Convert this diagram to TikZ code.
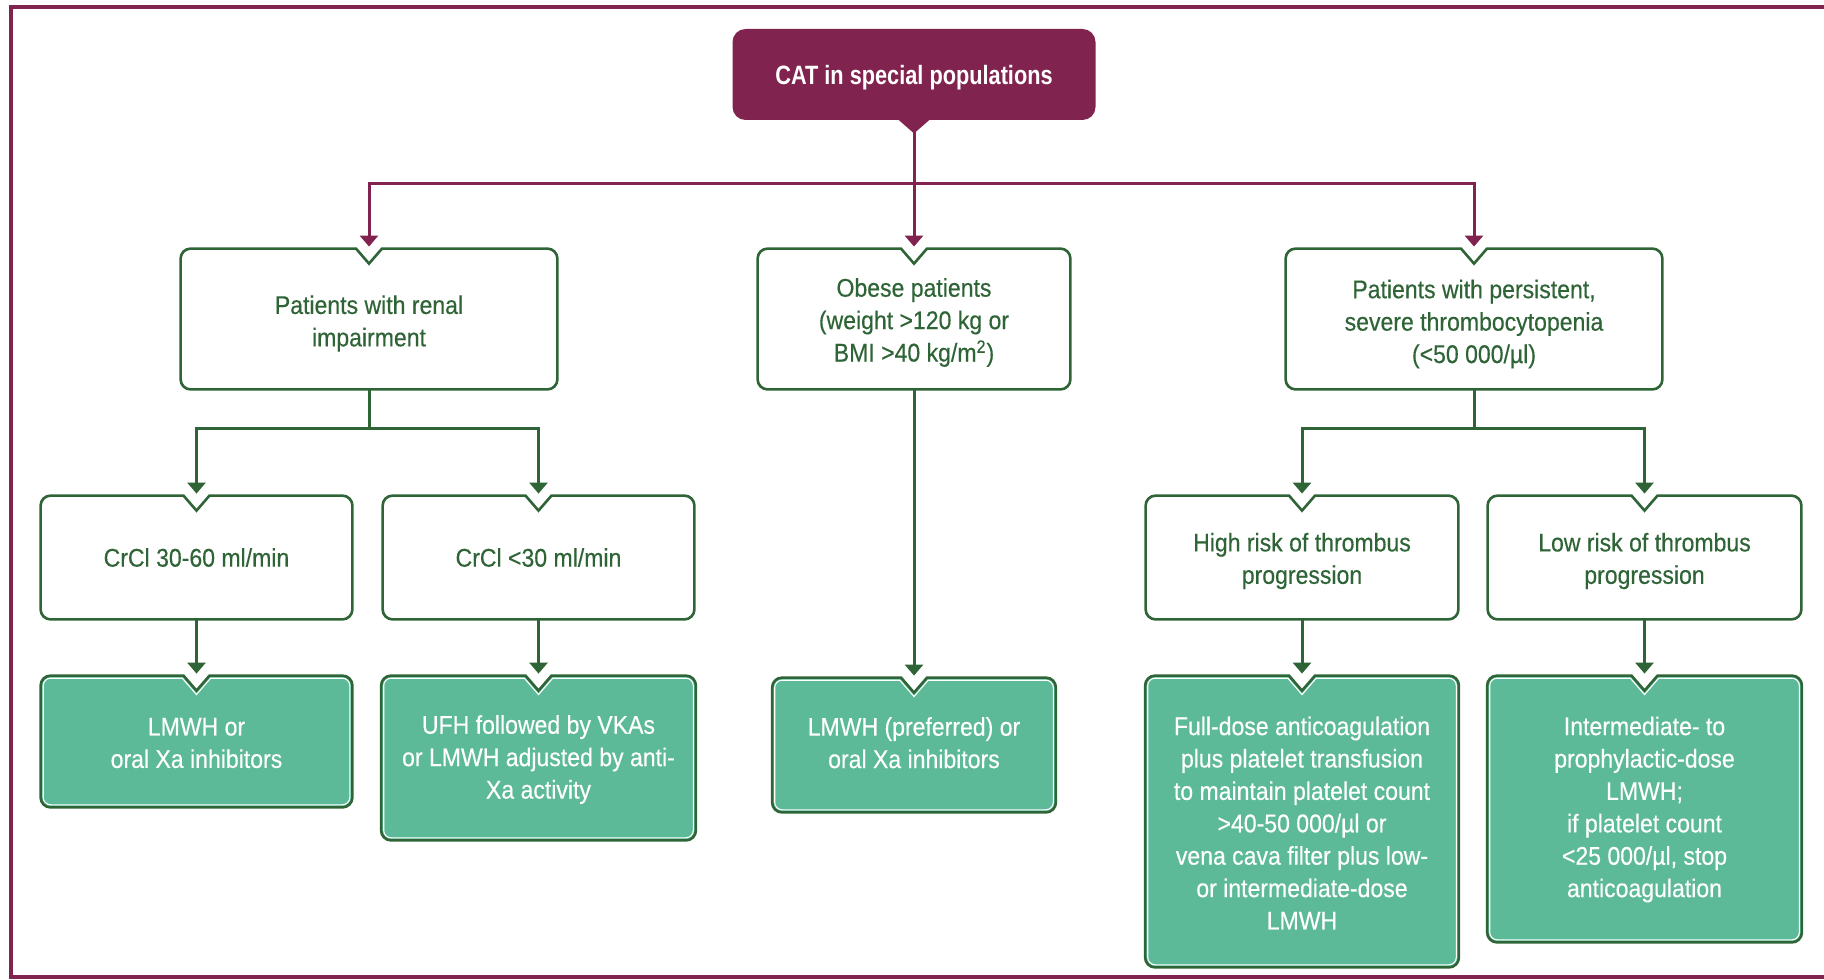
\documentclass[tikz,border=0pt]{standalone}
\usepackage{fontspec}
\setmainfont{Liberation Sans}[FakeStretch=0.9, FakeBold=0.35]
\newfontfamily\headfont{Liberation Sans}[FakeStretch=0.82]
\usetikzlibrary{arrows.meta,calc}
\definecolor{plum}{HTML}{80234E}
\definecolor{leaf}{HTML}{2F6437}
\definecolor{mint}{HTML}{5CBA98}

% Rounded box with a V notch in the middle of its top edge,
% drawn around node #2, inset by #3 pt, with path style #1.
\newcommand\boxshape[3]{%
 \def\bxinset{#3}%
 \path[#1] let \p1=(#2.north west), \p2=(#2.south east), \p3=(#2.north) in
  ({\x3-6.5pt-0.457*\bxinset pt},{\y1-\bxinset pt})
  -- ({\x1+5pt},{\y1-\bxinset pt})
  .. controls ({\x1+\bxinset pt+0.448*(5-\bxinset)*1pt},{\y1-\bxinset pt}) and ({\x1+\bxinset pt},{\y1-\bxinset pt-0.448*(5-\bxinset)*1pt}) .. ({\x1+\bxinset pt},{\y1-5pt})
  -- ({\x1+\bxinset pt},{\y2+5pt})
  .. controls ({\x1+\bxinset pt},{\y2+\bxinset pt+0.448*(5-\bxinset)*1pt}) and ({\x1+\bxinset pt+0.448*(5-\bxinset)*1pt},{\y2+\bxinset pt}) .. ({\x1+5pt},{\y2+\bxinset pt})
  -- ({\x2-5pt},{\y2+\bxinset pt})
  .. controls ({\x2-\bxinset pt-0.448*(5-\bxinset)*1pt},{\y2+\bxinset pt}) and ({\x2-\bxinset pt},{\y2+\bxinset pt+0.448*(5-\bxinset)*1pt}) .. ({\x2-\bxinset pt},{\y2+5pt})
  -- ({\x2-\bxinset pt},{\y1-5pt})
  .. controls ({\x2-\bxinset pt},{\y1-\bxinset pt-0.448*(5-\bxinset)*1pt}) and ({\x2-\bxinset pt-0.448*(5-\bxinset)*1pt},{\y1-\bxinset pt}) .. ({\x2-5pt},{\y1-\bxinset pt})
  -- ({\x3+6.5pt+0.457*\bxinset pt},{\y1-\bxinset pt})
  -- ({\x3},{\y1-7.5pt-1.527*\bxinset pt})
  -- cycle;}

\tikzset{
 frame/.style={inner sep=0pt},
 txt/.style={align=center, inner sep=0pt, font=\fontsize{12.8pt}{16.2pt}\selectfont},
 wtxt/.style={txt, text=leaf},
 gtxt/.style={txt, text=white},
 titlebox/.style={fill=plum, rounded corners=6.5pt, inner sep=0pt},
 titletxt/.style={text=white, inner sep=0pt,
   font=\headfont\bfseries\fontsize{13.25pt}{16pt}\selectfont},
 wshape/.style={fill=white, draw=leaf, line width=1.3pt},
 gshape/.style={fill=mint, draw=leaf, line width=1.3pt},
 ginner/.style={draw=white, line width=0.55pt},
 pline/.style={draw=plum, line width=1.5pt},
 gline/.style={draw=leaf, line width=1.5pt},
 parrow/.style={pline, -{Triangle[width=9pt,length=5.5pt]}, shorten >=1pt},
 garrow/.style={gline, -{Triangle[width=9pt,length=5.5pt]}, shorten >=1pt},
}

\begin{document}
\begin{tikzpicture}[x=0.5pt,y=-0.5pt]
\useasboundingbox (0,0) rectangle (1824,979);

% outer frame
\draw[plum, line width=1.75pt] (1824,7) -- (11,7) -- (11,977) -- (1824,977);

% title
\node[titlebox, minimum width=181.5pt, minimum height=45.5pt] (title) at (914,74.5) {};
\fill[plum] ($(title.south)+(-8pt,0.5pt)$) -- ($(title.south)+(8pt,0.5pt)$) -- ($(title.south)+(0,-6.5pt)$) -- cycle;
\node[titletxt] (title-t) at ($(title)+(0,3.5)$) {CAT in special populations};

% box frames (sizes in px of the drawing)
\node[frame, minimum width=188pt, minimum height=70pt] (renal) at (369,319) {};
\node[frame, minimum width=156pt, minimum height=70pt] (obese) at (914,319) {};
\node[frame, minimum width=188pt, minimum height=70pt] (thrombo) at (1474,319) {};
\node[frame, minimum width=155.5pt, minimum height=61.5pt] (c1) at (196.5,557.5) {};
\node[frame, minimum width=155.5pt, minimum height=61.5pt] (c2) at (538.5,557.5) {};
\node[frame, minimum width=156pt, minimum height=61.5pt] (h1) at (1302,557.5) {};
\node[frame, minimum width=156.5pt, minimum height=61.5pt] (h2) at (1644.5,557.5) {};
\node[frame, minimum width=155.5pt, minimum height=65.5pt] (g1) at (196.5,741.5) {};
\node[frame, minimum width=157pt, minimum height=82pt] (g2) at (538.5,758) {};
\node[frame, minimum width=141.5pt, minimum height=67pt] (g3) at (914,745) {};
\node[frame, minimum width=156.5pt, minimum height=145.5pt] (g4) at (1302,821.5) {};
\node[frame, minimum width=157pt, minimum height=133pt] (g5) at (1644.5,809) {};

% box outlines
\foreach \bx in {renal,obese,thrombo,c1,c2,h1,h2}{\boxshape{wshape}{\bx}{0}}
\foreach \bx in {g1,g2,g3,g4,g5}{\boxshape{gshape}{\bx}{0}\boxshape{ginner}{\bx}{1.3}}

% texts
\node[wtxt] (renal-t) at ($(renal)+(0,4.5)$) {Patients with renal\\impairment};
\node[wtxt] (obese-t) at ($(obese)+(0,3.5)$) {Obese patients\\(weight >120 kg or\\BMI >40 kg/m\textsuperscript{2})};
\node[wtxt] (thrombo-t) at ($(thrombo)+(0,5)$) {Patients with persistent,\\severe thrombocytopenia\\(<50 000/µl)};
\node[wtxt] (c1-t) at ($(c1)+(0,0)$) {CrCl 30-60 ml/min};
\node[wtxt] (c2-t) at ($(c2)+(0,0)$) {CrCl <30 ml/min};
\node[wtxt] (h1-t) at ($(h1)+(0,3.5)$) {High risk of thrombus\\progression};
\node[wtxt] (h2-t) at ($(h2)+(0,3.5)$) {Low risk of thrombus\\progression};
\node[gtxt] (g1-t) at ($(g1)+(0,1.5)$) {LMWH or\\oral Xa inhibitors};
\node[gtxt] (g2-t) at ($(g2)+(0,1.5)$) {UFH followed by VKAs\\or LMWH adjusted by anti-\\Xa activity};
\node[gtxt] (g3-t) at ($(g3)+(0,-2.3)$) {LMWH (preferred) or\\oral Xa inhibitors};
\node[gtxt] (g4-t) at ($(g4)+(0,1.5)$) {Full-dose anticoagulation\\plus platelet transfusion\\to maintain platelet count\\>40-50 000/µl or\\vena cava filter plus low-\\or intermediate-dose\\LMWH};
\node[gtxt] (g5-t) at ($(g5)+(0,0.5)$) {Intermediate- to\\prophylactic-dose\\LMWH;\\if platelet count\\<25 000/µl, stop\\anticoagulation};

% connectors
\coordinate (pj) at (914,183);
\draw[parrow] (title.south) -- (obese.north);
\draw[parrow] (pj) -| (renal.north);
\draw[parrow] (pj) -| (thrombo.north);

\coordinate (rj) at (369,428);
\draw[gline] (renal.south) -- (rj);
\draw[garrow] (rj) -| (c1.north);
\draw[garrow] (rj) -| (c2.north);

\coordinate (tj) at (1474,428);
\draw[gline] (thrombo.south) -- (tj);
\draw[garrow] (tj) -| (h1.north);
\draw[garrow] (tj) -| (h2.north);

\draw[garrow] (c1.south) -- (g1.north);
\draw[garrow] (c2.south) -- (g2.north);
\draw[garrow] (obese.south) -- (g3.north);
\draw[garrow] (h1.south) -- (g4.north);
\draw[garrow] (h2.south) -- (g5.north);
\end{tikzpicture}
\end{document}
